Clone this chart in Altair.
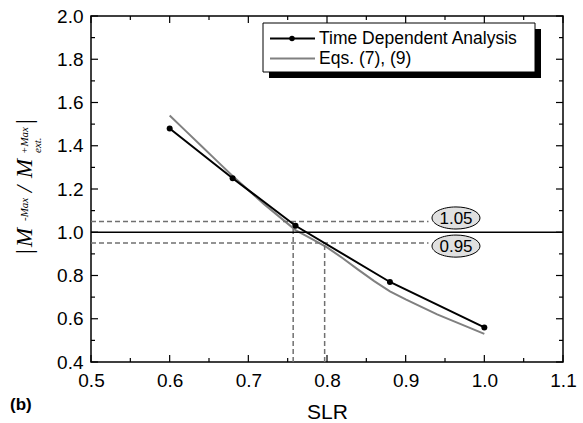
import altair as alt
import pandas as pd

# ---------------- data ----------------
tda_slr = [0.60, 0.68, 0.76, 0.88, 1.00]
tda_ratio = [1.48, 1.25, 1.03, 0.77, 0.56]

eq_slr = [0.60, 0.62, 0.64, 0.66, 0.68, 0.70, 0.72, 0.74, 0.76, 0.78, 0.80,
          0.82, 0.84, 0.86, 0.88, 0.90, 0.92, 0.94, 0.96, 0.98, 1.00]
eq_ratio = [1.54, 1.47, 1.40, 1.33, 1.26, 1.195, 1.13, 1.07, 1.01, 0.97, 0.93,
            0.88, 0.826, 0.774, 0.727, 0.69, 0.655, 0.62, 0.59, 0.56, 0.53]

x_major = [0.5, 0.6, 0.7, 0.8, 0.9, 1.0, 1.1]
x_minor = [0.55, 0.65, 0.75, 0.85, 0.95, 1.05]
y_major = [0.4, 0.6, 0.8, 1.0, 1.2, 1.4, 1.6, 1.8, 2.0]
y_minor = [0.5, 0.7, 0.9, 1.1, 1.3, 1.5, 1.7, 1.9]

band_y = [1.05, 0.95]
band_x_start = 0.5
band_x_end = 0.929
cross_x = [0.757, 0.797]
cross_top = [1.05, 0.95]
unity = 1.0
bubble_x = [0.964, 0.964]
bubble_y = [1.066, 0.936]
bubble_text = ["1.05", "0.95"]

legend_labels = ["Time Dependent Analysis", "Eqs. (7), (9)"]

SANS = "Liberation Sans"
SERIF = "Liberation Serif"
W, H = 472, 346

xs = alt.Scale(domain=[0.5, 1.1], nice=False, zero=False)
ys = alt.Scale(domain=[0.4, 2.0], nice=False, zero=False)

x_axis = alt.Axis(
    values=x_major, format=".1f", labelFont=SANS, labelFontSize=19,
    labelColor="black", ticks=False, domain=False, grid=False,
    labelPadding=9, labelFlush=False, labelOverlap=False,
    title="SLR", titleFont=SANS, titleFontSize=21, titleFontWeight="normal",
    titleColor="black", titlePadding=11)
y_axis = alt.Axis(
    values=y_major, format=".1f", labelFont=SANS, labelFontSize=19,
    labelColor="black", ticks=False, domain=False, grid=False,
    labelPadding=8, labelFlush=False, labelOverlap=False, title="")


def X(f):
    return alt.X(f, scale=xs, axis=x_axis)


def Y(f):
    return alt.Y(f, scale=ys, axis=y_axis)


eq_df = pd.DataFrame({"x": eq_slr, "y": eq_ratio})
tda_df = pd.DataFrame({"x": tda_slr, "y": tda_ratio})

eq_line = alt.Chart(eq_df).mark_line(color="#808080", strokeWidth=2).encode(
    x=X("x:Q"), y=Y("y:Q"))
tda_line = alt.Chart(tda_df).mark_line(color="black", strokeWidth=2).encode(
    x=X("x:Q"), y=Y("y:Q"))
tda_pts = alt.Chart(tda_df).mark_circle(color="black", size=36, opacity=1).encode(
    x=X("x:Q"), y=Y("y:Q"))

# dashed guide lines
hdash_df = pd.DataFrame({"x": [band_x_start] * 2, "x2": [band_x_end] * 2, "y": band_y})
hdash = alt.Chart(hdash_df).mark_rule(color="#707070", strokeWidth=1.5, strokeDash=[5, 3]).encode(
    x=X("x:Q"), x2="x2:Q", y=Y("y:Q"))
vdash_df = pd.DataFrame({"x": cross_x, "y": [0.4, 0.4], "y2": cross_top})
vdash = alt.Chart(vdash_df).mark_rule(color="#707070", strokeWidth=1.5, strokeDash=[5, 3]).encode(
    x=X("x:Q"), y=Y("y:Q"), y2="y2:Q")
unity_df = pd.DataFrame({"x": [0.5], "x2": [1.1], "y": [unity]})
unity_rule = alt.Chart(unity_df).mark_rule(color="black", strokeWidth=1.3).encode(
    x=X("x:Q"), x2="x2:Q", y=Y("y:Q"))


# inward ticks on all four sides
def tick_layer(vals, side, length):
    df = pd.DataFrame({"v": vals})
    c = alt.Chart(df).mark_rule(color="black", strokeWidth=1.2)
    if side == "bottom":
        return c.encode(x=X("v:Q"), y=alt.value(H), y2=alt.value(H - length))
    if side == "top":
        return c.encode(x=X("v:Q"), y=alt.value(0), y2=alt.value(length))
    if side == "left":
        return c.encode(y=Y("v:Q"), x=alt.value(0), x2=alt.value(length))
    return c.encode(y=Y("v:Q"), x=alt.value(W), x2=alt.value(W - length))


ticks = [tick_layer(x_major, s, 7) for s in ("bottom", "top")] + \
        [tick_layer(x_minor, s, 4) for s in ("bottom", "top")] + \
        [tick_layer(y_major, s, 7) for s in ("left", "right")] + \
        [tick_layer(y_minor, s, 4) for s in ("left", "right")]

# bubbles
bub_df = pd.DataFrame({"x": bubble_x, "y": bubble_y, "t": bubble_text})
ellipse = "M -1 0 A 1 0.46 0 1 1 1 0 A 1 0.46 0 1 1 -1 0 Z"
bubbles = alt.Chart(bub_df).mark_point(shape=ellipse, size=2304, filled=True,
                                       fill="#e0e0e0", stroke="black", strokeWidth=1,
                                       opacity=1).encode(x=X("x:Q"), y=Y("y:Q"))
bub_text = alt.Chart(bub_df).mark_text(font=SANS, fontSize=17, color="black",
                                       align="center", baseline="middle", dy=1).encode(
    x=X("x:Q"), y=Y("y:Q"), text="t:N")

# legend (drawn by hand)
one = pd.DataFrame({"a": [0]})
ox, oy = 91, 16
lg_l, lg_r, lg_t, lg_b = 263 - ox, 535 - ox, 23 - oy, 72 - oy
shadow = alt.Chart(one).mark_rect(color="black").encode(
    x=alt.value(lg_l + 6), x2=alt.value(lg_r + 6), y=alt.value(lg_t + 6), y2=alt.value(lg_b + 6))
box = alt.Chart(one).mark_rect(fill="white", stroke="black", strokeWidth=1).encode(
    x=alt.value(lg_l), x2=alt.value(lg_r), y=alt.value(lg_t), y2=alt.value(lg_b))
row1, row2 = 38.5 - oy, 58.5 - oy
lg_line1 = alt.Chart(one).mark_rule(color="black", strokeWidth=2).encode(
    x=alt.value(270 - ox), x2=alt.value(315 - ox), y=alt.value(row1))
lg_pt1 = alt.Chart(one).mark_circle(color="black", size=30, opacity=1).encode(
    x=alt.value(292 - ox), y=alt.value(row1))
lg_line2 = alt.Chart(one).mark_rule(color="#808080", strokeWidth=2).encode(
    x=alt.value(270 - ox), x2=alt.value(315 - ox), y=alt.value(row2))
lg_txt = [
    alt.Chart(one).mark_text(text=lab, font=SANS, fontSize=17.5, color="black",
                             align="left", baseline="middle").encode(
        x=alt.value(319 - ox), y=alt.value(r))
    for lab, r in zip(legend_labels, [row1, row2])
]


# rotated y-axis label |M^-Max / M^+Max_ext.|
def rot(txt, px, py, size, align="left"):
    return alt.Chart(one).mark_text(text=txt, font=SERIF, fontStyle="italic",
                                    fontSize=size, angle=270, align=align,
                                    baseline="alphabetic", color="black").encode(
        x=alt.value(px - ox), y=alt.value(py - oy))


ylab = [
    rot("|", 32, 252, 23, "center"),
    rot("M", 32, 247, 23),
    rot("-Max", 28, 221, 11),
    rot("/", 32, 189, 23, "center"),
    rot("M", 32, 178, 23),
    rot("+Max", 28, 154, 11),
    rot("ext.", 41, 153, 11),
    rot("|", 32, 122, 23, "center"),
]

panel = alt.Chart(one).mark_text(text="(b)", font=SANS, fontSize=17, fontWeight="bold",
                                 align="left", baseline="middle", color="black").encode(
    x=alt.value(10 - ox), y=alt.value(405 - oy))

chart = alt.layer(
    eq_line, hdash, vdash, unity_rule, tda_line, tda_pts, *ticks,
    bubbles, bub_text, shadow, box, lg_line1, lg_pt1, lg_line2, *lg_txt,
    *ylab, panel,
).properties(
    width=W, height=H,
    autosize=alt.AutoSizeParams(type="none"),
    padding={"left": 91, "top": 16, "right": 20, "bottom": 61},
    background="white",
).configure_view(stroke="black", strokeWidth=1.5)

chart.save("out.html", embed_options={"renderer": "svg", "actions": False})
